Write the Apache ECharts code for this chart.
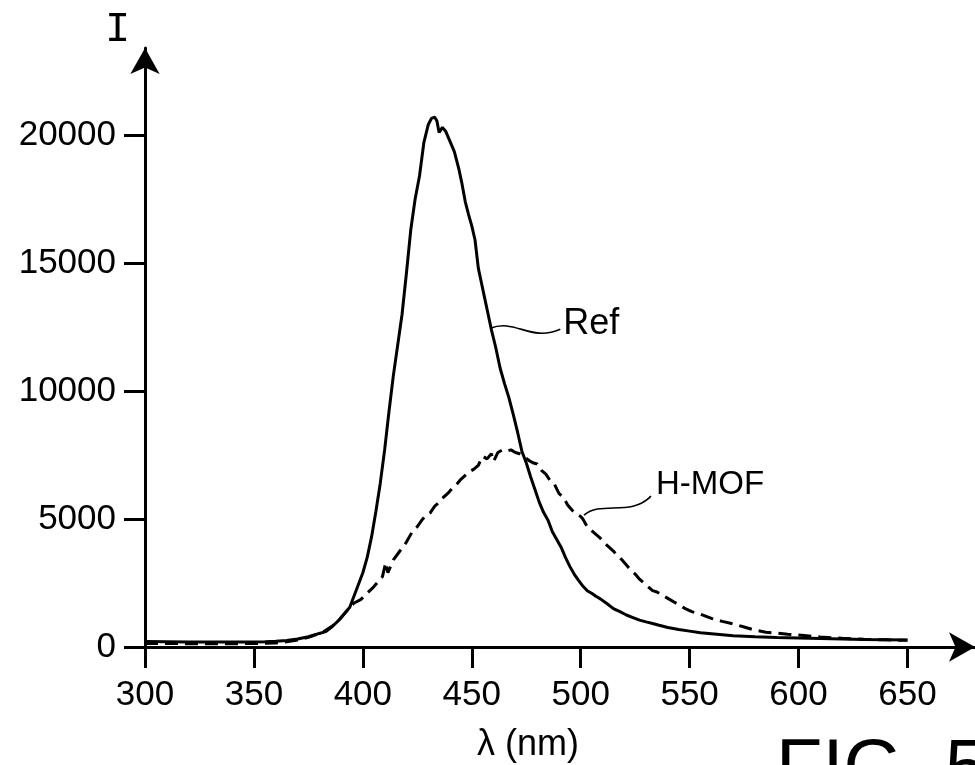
<!DOCTYPE html>
<html><head><meta charset="utf-8">
<script src="https://cdn.jsdelivr.net/npm/echarts@6/dist/echarts.min.js"></script>
<style>html,body{margin:0;padding:0;background:#fff}#c{width:975px;height:765px}</style>
</head><body><div id="c"></div>
<script>
// ---- data ----
const xTicks = [300, 350, 400, 450, 500, 550, 600, 650];
const yTicks = [0, 5000, 10000, 15000, 20000];

const refWl = [300,310,320,330,340,350,355,360,365,370,375,380,383,386,389,392,394,396,398,400,402,404,406,408,410,412,414,416,418,420,422,424,426,428,430,431.5,433,434,435,436.5,438,440,442,444,445.5,447,448.5,450,451.5,453,454.5,456,457.5,459,461,463,465,467,469,471,473,475,477,479,481,483,485,487,489,491,493,495,497,499,501,503,505,507,509,512,515,518,521,524,527,530,533,536,540,545,550,555,560,565,570,575,580,590,600,610,620,630,640,650];
const refI  = [210,205,200,195,195,200,205,220,250,310,400,530,600,800,1050,1350,1550,2000,2450,2900,3500,4300,5300,6400,7700,9200,10600,11800,13000,14600,16300,17500,18400,19700,20400,20650,20700,20550,20100,20300,20150,19750,19350,18700,18100,17400,16900,16450,15900,14800,14200,13600,13000,12400,11700,10900,10300,9750,9100,8400,7650,7200,6650,6150,5650,5250,4950,4500,4200,3900,3500,3150,2850,2600,2380,2200,2100,1980,1880,1700,1500,1380,1250,1150,1050,980,920,850,760,680,620,560,520,480,440,420,400,370,350,330,310,290,280,270];

const mofWl = [300,310,320,330,340,350,360,365,370,375,380,383,386,389,392,394,396,399,402,405,407,409,410.5,411.5,414,417,420,423,425,427,429,431,433,435,437,439,441,443,445,447,449,451,453,455,457,459,460,462,464,466,468,470,472,474,476,478,480,482,484,486,488,490,492,494,496,498,500,501,503,505,507,509,511,513,515,517,519,521,523,525,527,529,531,533,535,537,539,541,543,545,548,551,555,560,565,570,575,580,585,590,595,600,605,610,620,630,640,650];
const mofI  = [140,135,130,130,130,135,160,200,270,380,520,650,820,1050,1350,1550,1720,1850,2100,2350,2550,2750,3300,2900,3400,3750,4100,4550,4700,4950,5150,5250,5500,5650,5850,6000,6200,6350,6550,6700,6850,6950,7100,7450,7350,7550,7250,7600,7700,7650,7700,7600,7550,7450,7300,7200,7150,6900,6750,6500,6350,6000,5850,5550,5350,5200,5100,5000,4700,4550,4400,4250,4050,3900,3750,3550,3400,3200,3000,2850,2650,2500,2350,2200,2150,2050,1950,1850,1750,1650,1500,1380,1280,1120,1000,900,780,660,580,540,500,470,430,390,340,300,280,260];

const refPairs = refWl.map((w, i) => [w, refI[i]]);
const mofPairs = mofWl.map((w, i) => [w, mofI[i]]);

const chart = echarts.init(document.getElementById('c'), null, {renderer: 'canvas'});
const FONT = '"Liberation Sans", Arial, sans-serif';
const axisStyle = {color: '#000', width: 3};
const plain = v => String(v);

chart.setOption({
  animation: false,
  backgroundColor: '#fff',
  grid: {left: 145, right: 0, top: 48, bottom: 118, containLabel: false},
  xAxis: {
    type: 'value', min: 300, max: 681,
    axisLine: {show: true, onZero: false, lineStyle: axisStyle, symbol: ['none', 'arrow'], symbolSize: [22, 26]},
    axisTick: {show: true, length: 21, lineStyle: {color: '#000', width: 3}, customValues: xTicks},
    axisLabel: {color: '#000', fontSize: 35, fontFamily: FONT, margin: 31, customValues: xTicks, formatter: plain},
    splitLine: {show: false}
  },
  yAxis: {
    type: 'value', min: 0, max: 23400,
    axisLine: {show: true, onZero: false, lineStyle: axisStyle, symbol: ['none', 'arrow'], symbolSize: [22, 26]},
    axisTick: {show: true, length: 21, lineStyle: {color: '#000', width: 3}, customValues: yTicks},
    axisLabel: {color: '#000', fontSize: 35, fontFamily: FONT, margin: 29, customValues: yTicks, formatter: plain},
    splitLine: {show: false}
  },
  series: [
    {name: 'Ref', type: 'line', data: refPairs, showSymbol: false, symbol: 'none',
     lineStyle: {color: '#000', width: 3}, z: 3},
    {name: 'H-MOF', type: 'line', data: mofPairs, showSymbol: false, symbol: 'none',
     lineStyle: {color: '#000', width: 3, type: [13, 7]}, z: 2}
  ]
});

// annotations anchored through the chart's own coordinate conversion
function px(x, y) { return chart.convertToPixel({gridIndex: 0}, [x, y]); }
const refStart = px(458.5, 12450);
const mofStart = px(501.5, 5150);
chart.setOption({
  graphic: [
    {type: 'bezierCurve', shape: {x1: refStart[0], y1: refStart[1], cpx1: refStart[0] + 25, cpy1: refStart[1] - 10, cpx2: refStart[0] + 40, cpy2: refStart[1] + 14, x2: refStart[0] + 70, y2: refStart[1] + 1}, style: {stroke: '#000', lineWidth: 1.6, fill: null}},
    {type: 'text', left: refStart[0] + 73, top: refStart[1] - 22, style: {text: 'Ref', font: '36px ' + FONT, fill: '#000'}},
    {type: 'bezierCurve', shape: {x1: mofStart[0], y1: mofStart[1], cpx1: mofStart[0] + 17, cpy1: mofStart[1] - 15, cpx2: mofStart[0] + 47, cpy2: mofStart[1] + 2, x2: mofStart[0] + 67, y2: mofStart[1] - 19}, style: {stroke: '#000', lineWidth: 1.6, fill: null}},
    {type: 'text', left: mofStart[0] + 72, top: mofStart[1] - 47, style: {text: 'H-MOF', font: '33px ' + FONT, fill: '#000'}},
    {type: 'text', left: 105, top: 9, style: {text: 'I', font: '42px "Liberation Mono", "DejaVu Sans Mono", monospace', fill: '#000'}},
    {type: 'text', left: 477, top: 727, style: {text: 'λ (nm)', font: '36px ' + FONT, fill: '#000'}},
    {type: 'text', left: 776, top: 733, style: {text: 'FIG. 5', font: '76px ' + FONT, fill: '#000'}}
  ]
});
</script></body></html>
